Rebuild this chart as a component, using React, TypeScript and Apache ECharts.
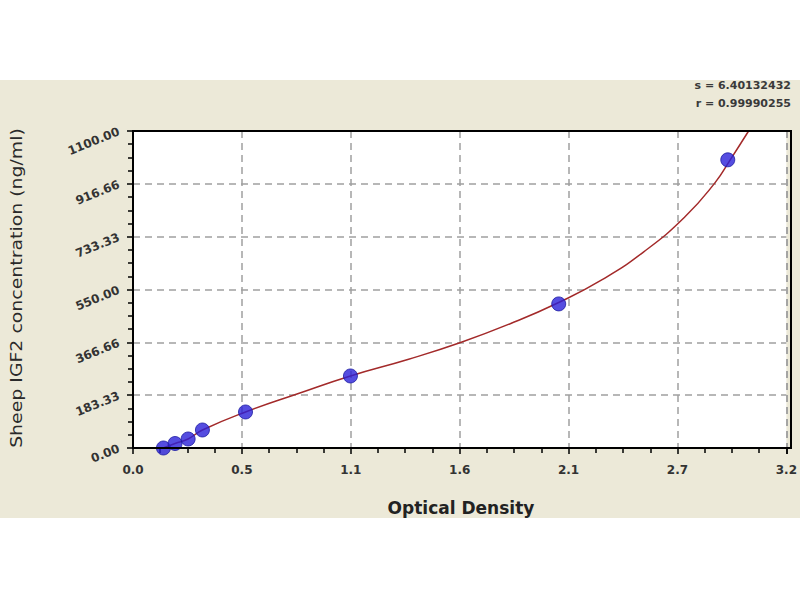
import React, { useEffect, useRef } from "react";
import * as echarts from "echarts";

// Standards: optical density vs concentration (ng/ml)
const odValues = [0.149, 0.206, 0.27, 0.34, 0.551, 1.065, 2.085, 2.913];
const concValues = [0, 15.6, 31.25, 62.5, 125, 250, 500, 1000];

// Fitted curve
const curveOd = [0.149, 0.206, 0.27, 0.34, 0.551, 0.814, 1.065, 1.35, 1.608, 1.85, 2.085, 2.3, 2.5, 2.7, 2.85, 2.925, 3.015];
const curveConc = [0, 15.6, 31.25, 62.5, 125, 190, 250, 308, 367, 432, 505, 585, 680, 800, 920, 1000, 1100];

const xTickLabels = ["0.0", "0.5", "1.1", "1.6", "2.1", "2.7", "3.2"];
const yTickLabels = ["0.00", "183.33", "366.66", "550.00", "733.33", "916.66", "1100.00"];

const X_MAX = 3.2;
const Y_MAX = 1100;
const statLines = ["s = 6.40132432", "r = 0.99990255"];

const GRID = { left: 133, top: 131, width: 658, height: 317 };

export default function App() {
  const ref = useRef<HTMLDivElement>(null);

  useEffect(() => {
    if (!ref.current) return;
    const chart = echarts.init(ref.current, null, { renderer: "svg" });
    const xInt = X_MAX / (xTickLabels.length - 1);
    const yInt = Y_MAX / (yTickLabels.length - 1);
    const labelFont = '"DejaVu Sans"';

    const option: any = {
      animation: false,
      backgroundColor: "#ffffff",
      graphic: [
        {
          type: "rect",
          z: -100,
          silent: true,
          shape: { x: 0, y: 80, width: 800, height: 438 },
          style: { fill: "#ece9d8" },
        },
        {
          type: "rect",
          z: 100,
          silent: true,
          shape: { x: GRID.left, y: GRID.top, width: GRID.width, height: GRID.height },
          style: { fill: "none", stroke: "#000000", lineWidth: 2 },
        },
        {
          type: "text",
          x: 17,
          y: 288,
          rotation: Math.PI / 2,
          scaleX: 1.22,
          style: {
            text: "Sheep IGF2 concentration (ng/ml)",
            font: '15.5px "DejaVu Sans"',
            fill: "#2a2a2a",
            textAlign: "center",
            textVerticalAlign: "middle",
          },
        },
        {
          type: "text",
          x: 461,
          y: 508,
          style: {
            text: "Optical Density",
            font: 'bold 17px "DejaVu Sans"',
            fill: "#222222",
            textAlign: "center",
            textVerticalAlign: "middle",
          },
        },
        {
          type: "text",
          x: 791,
          y: 85,
          style: {
            text: statLines[0],
            font: 'bold 11px "DejaVu Sans"',
            fill: "#3a3a3a",
            textAlign: "right",
            textVerticalAlign: "middle",
          },
        },
        {
          type: "text",
          x: 791,
          y: 103,
          style: {
            text: statLines[1],
            font: 'bold 11px "DejaVu Sans"',
            fill: "#3a3a3a",
            textAlign: "right",
            textVerticalAlign: "middle",
          },
        },
      ],
      grid: {
        ...GRID,
        show: true,
        backgroundColor: "#ffffff",
        borderWidth: 0,
      },
      xAxis: {
        type: "value",
        min: 0,
        max: X_MAX,
        interval: xInt,
        axisLine: { show: true, onZero: false, lineStyle: { color: "#000", width: 2 } },
        axisTick: { show: true, length: 6, lineStyle: { color: "#000", width: 1.5 } },
        minorTick: { show: true, splitNumber: 4, length: 5, lineStyle: { color: "#000", width: 1.5 } },
        splitLine: { show: true, lineStyle: { color: "#a0a0a0", width: 1.5, type: [7, 5] } },
        axisLabel: {
          margin: 16,
          color: "#333",
          fontWeight: "bold",
          fontSize: 12,
          fontFamily: labelFont,
          formatter: (v: number) => xTickLabels[Math.round(v / xInt)] ?? "",
        },
      },
      yAxis: {
        type: "value",
        min: 0,
        max: Y_MAX,
        interval: yInt,
        axisLine: { show: true, onZero: false, lineStyle: { color: "#000", width: 2 } },
        axisTick: { show: true, length: 6, lineStyle: { color: "#000", width: 1.5 } },
        minorTick: { show: true, splitNumber: 4, length: 5, lineStyle: { color: "#000", width: 1.5 } },
        splitLine: { show: true, lineStyle: { color: "#a0a0a0", width: 1.5, type: [7, 5] } },
        axisLabel: {
          margin: 14,
          rotate: 22,
          color: "#333",
          fontWeight: "bold",
          fontSize: 12,
          fontFamily: labelFont,
          formatter: (v: number) => yTickLabels[Math.round(v / yInt)] ?? "",
        },
      },
      series: [
        {
          type: "line",
          data: curveOd.map((x, i) => [x, curveConc[i]]),
          showSymbol: false,
          smooth: 0.5,
          clip: true,
          lineStyle: { color: "#a32a2a", width: 1.5 },
          z: 3,
        },
        {
          type: "scatter",
          data: odValues.map((x, i) => [x, concValues[i]]),
          symbol: "circle",
          symbolSize: 14,
          itemStyle: { color: "#2a20d8", borderColor: "#1a1aa0", borderWidth: 1 },
          z: 4,
        },
      ],
    };

    chart.setOption(option);
    return () => chart.dispose();
  }, []);

  return (
    <div
      ref={ref}
      style={{ position: "absolute", left: 0, top: 0, width: 800, height: 600 }}
    />
  );
}
